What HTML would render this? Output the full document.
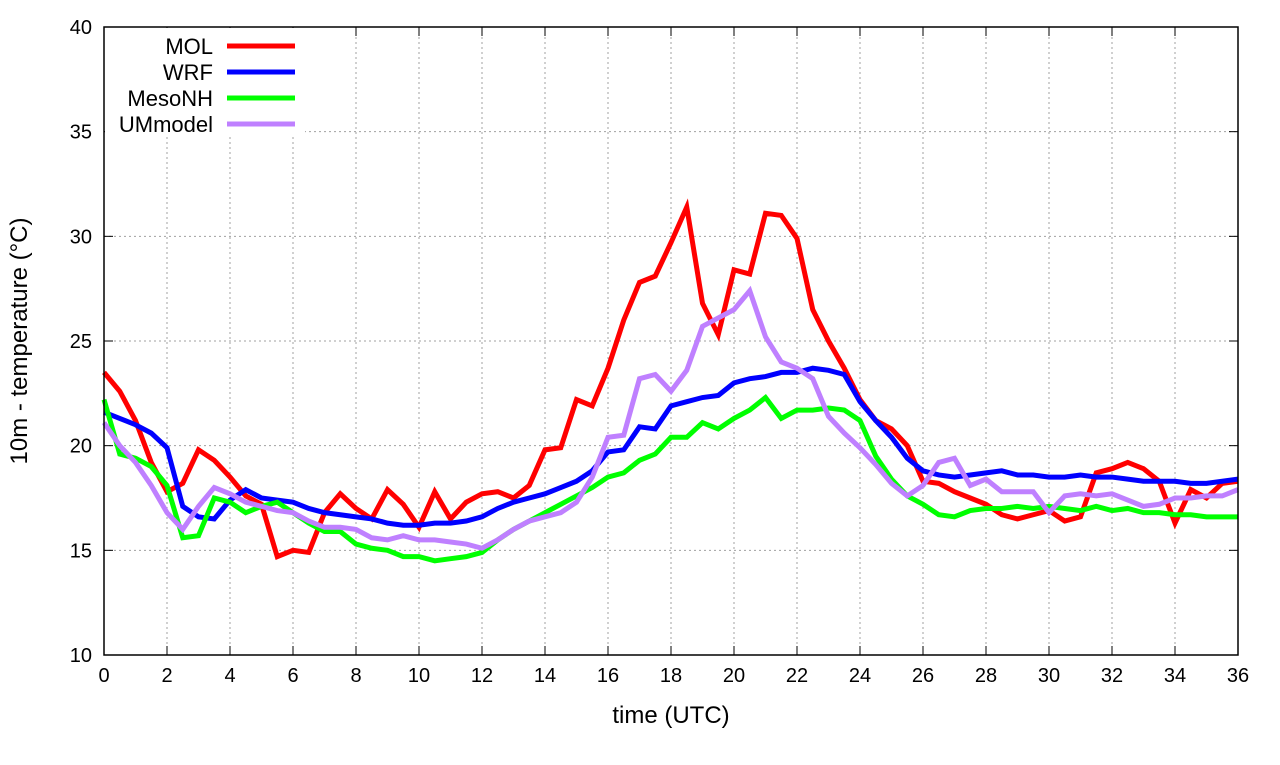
<!DOCTYPE html>
<html><head><meta charset="utf-8"><style>
body{margin:0;background:#fff;}
svg text{font-family:"Liberation Sans",sans-serif;fill:#000;}
</style></head><body>
<svg id="chart" width="1280" height="760" xmlns="http://www.w3.org/2000/svg"></svg>
<script>
const xTicks=[0,2,4,6,8,10,12,14,16,18,20,22,24,26,28,30,32,34,36];
const yTicks=[10,15,20,25,30,35,40];
const seriesNames=["MOL","WRF","MesoNH","UMmodel"];
const seriesColors=["#ff0000","#0000ff","#00ff00","#bf80ff"];
const mol=[23.5,22.6,21.2,19.2,17.8,18.2,19.8,19.3,18.5,17.6,17.2,14.7,15.0,14.9,16.8,17.7,17.0,16.5,17.9,17.2,16.1,17.8,16.5,17.3,17.7,17.8,17.5,18.1,19.8,19.9,22.2,21.9,23.7,26.0,27.8,28.1,29.7,31.4,26.8,25.3,28.4,28.2,31.1,31.0,29.9,26.5,25.0,23.7,22.2,21.2,20.8,20.0,18.3,18.2,17.8,17.5,17.2,16.7,16.5,16.7,16.9,16.4,16.6,18.7,18.9,19.2,18.9,18.3,16.3,17.9,17.5,18.2,18.3];
const wrf=[21.6,21.3,21.0,20.6,19.9,17.1,16.6,16.5,17.4,17.9,17.5,17.4,17.3,17.0,16.8,16.7,16.6,16.5,16.3,16.2,16.2,16.3,16.3,16.4,16.6,17.0,17.3,17.5,17.7,18.0,18.3,18.8,19.7,19.8,20.9,20.8,21.9,22.1,22.3,22.4,23.0,23.2,23.3,23.5,23.5,23.7,23.6,23.4,22.1,21.2,20.4,19.4,18.8,18.6,18.5,18.6,18.7,18.8,18.6,18.6,18.5,18.5,18.6,18.5,18.5,18.4,18.3,18.3,18.3,18.2,18.2,18.3,18.4];
const mesonh=[22.2,19.6,19.4,19.0,18.1,15.6,15.7,17.5,17.3,16.8,17.1,17.3,16.8,16.3,15.9,15.9,15.3,15.1,15.0,14.7,14.7,14.5,14.6,14.7,14.9,15.5,16.0,16.4,16.8,17.2,17.6,18.0,18.5,18.7,19.3,19.6,20.4,20.4,21.1,20.8,21.3,21.7,22.3,21.3,21.7,21.7,21.8,21.7,21.2,19.5,18.4,17.6,17.2,16.7,16.6,16.9,17.0,17.0,17.1,17.0,17.1,17.0,16.9,17.1,16.9,17.0,16.8,16.8,16.7,16.7,16.6,16.6,16.6];
const ummodel=[21.1,20.0,19.2,18.1,16.8,16.0,17.1,18.0,17.7,17.3,17.1,16.9,16.8,16.4,16.1,16.1,16.0,15.6,15.5,15.7,15.5,15.5,15.4,15.3,15.1,15.5,16.0,16.4,16.6,16.8,17.3,18.5,20.4,20.5,23.2,23.4,22.6,23.6,25.7,26.1,26.5,27.4,25.2,24.0,23.7,23.2,21.4,20.6,19.9,19.1,18.2,17.6,18.1,19.2,19.4,18.1,18.4,17.8,17.8,17.8,16.8,17.6,17.7,17.6,17.7,17.4,17.1,17.2,17.5,17.5,17.6,17.6,17.9];
const allSeries=[mol,wrf,mesonh,ummodel];

const NS="http://www.w3.org/2000/svg";
const svg=document.getElementById('chart');
const L=104,R=1238,T=27,B=655;
const xs=v=>L+(v/36)*(R-L);
const ys=v=>B-(v-10)/30*(B-T);
function el(tag,attrs,parent){const e=document.createElementNS(NS,tag);for(const k in attrs)e.setAttribute(k,attrs[k]);(parent||svg).appendChild(e);return e;}

const grid=el('g',{});


xTicks.forEach(t=>{
  if(t>0&&t<36){const g=el('line',{x1:xs(t),x2:xs(t),y1:T,y2:B,stroke:'#a0a0a0','stroke-width':1,'stroke-dasharray':'2,3'},grid);}
  el('line',{x1:xs(t),x2:xs(t),y1:B,y2:B-9,stroke:'#000'},grid);
  el('line',{x1:xs(t),x2:xs(t),y1:T,y2:T+9,stroke:'#000'},grid);
  const tx=el('text',{x:xs(t),y:B+27,'font-size':20,'text-anchor':'middle'});
  tx.textContent=t;
  
  
});
yTicks.forEach(t=>{
  if(t>10&&t<40){const g=el('line',{x1:L,x2:R,y1:ys(t),y2:ys(t),stroke:'#a0a0a0','stroke-width':1,'stroke-dasharray':'2,3'},grid);}
  el('line',{x1:L,x2:L+9,y1:ys(t),y2:ys(t),stroke:'#000'},grid);
  el('line',{x1:R,x2:R-9,y1:ys(t),y2:ys(t),stroke:'#000'},grid);
  const tx=el('text',{x:L-12,y:ys(t)+7,'font-size':20,'text-anchor':'end'});
  tx.textContent=t;
  
  
});
el('rect',{x:L+1,y:T+1,width:200,height:106,fill:'#fff'});

allSeries.forEach((s,i)=>{
  const pts=s.map((v,j)=>xs(j*0.5)+','+ys(v)).join(' ');
  const p=el('polyline',{points:pts,fill:'none',stroke:seriesColors[i],'stroke-width':5,'stroke-linejoin':'miter'});
  
  
});

const frame=el('rect',{x:L,y:T,width:R-L,height:B-T,fill:'none',stroke:'#000','stroke-width':1.5});



seriesNames.forEach((n,i)=>{
  const y=46+i*26;
  const g=el('g',{});
  
  
  const t=el('text',{x:213,y:y+8,'font-size':22,'text-anchor':'end'},g);
  t.textContent=n;
  el('line',{x1:227,x2:295,y1:y,y2:y,stroke:seriesColors[i],'stroke-width':5},g);
});

const xt=el('text',{x:(L+R)/2,y:723,'font-size':24,'text-anchor':'middle'});
xt.textContent='time (UTC)';


const yt=el('text',{x:0,y:0,'font-size':24,'text-anchor':'middle',transform:'translate(27,341) rotate(-90)'});
yt.textContent='10m - temperature (°C)';


</script>
</body></html>
